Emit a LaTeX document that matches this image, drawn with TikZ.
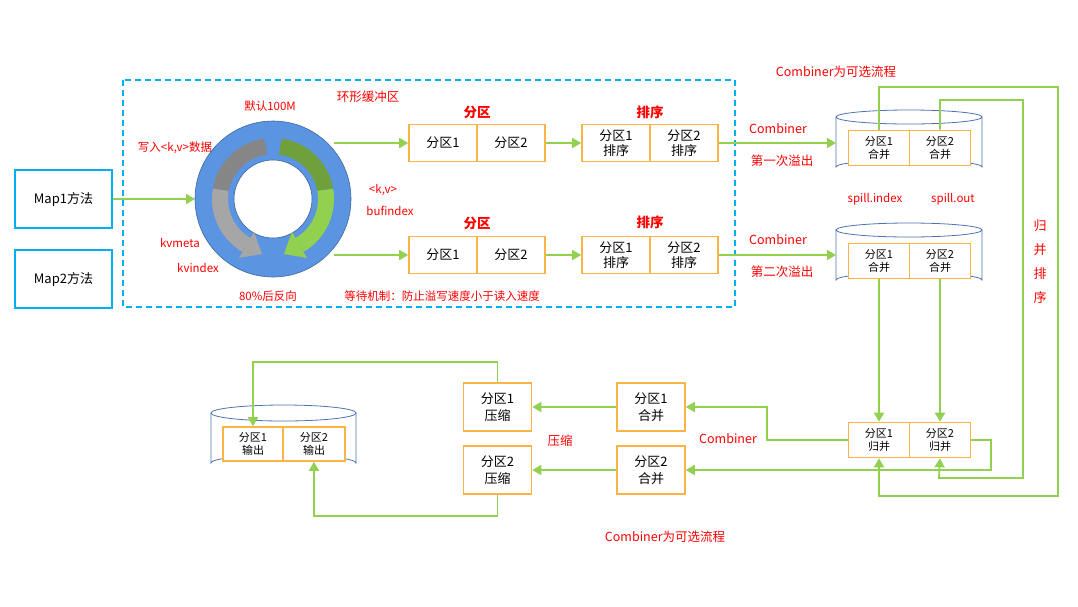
\documentclass[tikz,border=0pt]{standalone}
\usepackage{fontspec}
\setmainfont{Noto Sans CJK SC}
\usetikzlibrary{arrows.meta}
\definecolor{gr}{RGB}{146,208,80}
\definecolor{dgr}{RGB}{112,160,60}
\definecolor{og}{RGB}{250,180,70}
\definecolor{cy}{RGB}{0,176,240}
\definecolor{rb}{RGB}{91,148,224}
\definecolor{cyl}{RGB}{79,114,176}
\begin{document}
\begin{tikzpicture}[x=1pt,y=-1pt,
  cell/.style={draw=og,line width=1.6pt,minimum width=68pt,minimum height=37pt,align=center,inner sep=0pt,font=\fontsize{13}{15}\selectfont,fill=white},
  scell/.style={cell,minimum width=61pt,minimum height=35pt,font=\fontsize{11}{12.5}\selectfont},
  bcell/.style={cell,minimum height=48pt,font=\fontsize{13}{17}\selectfont},
  lab/.style={text=red,font=\fontsize{11.5}{13}\selectfont,inner sep=0pt},
  mlab/.style={lab,font=\fontsize{12.5}{14}\selectfont},
  blab/.style={text=red,font=\fontsize{13.5}{15}\selectfont\bfseries,inner sep=0pt},
  ar/.style={draw=gr,line width=1.8pt,-{Triangle[length=9pt,width=10pt]}},
  mapb/.style={draw=cy,line width=1.6pt,minimum width=97pt,minimum height=58pt,font=\fontsize{13}{15}\selectfont,inner sep=0pt},
  cylb/.style={draw=cyl,line width=0.8pt,fill=white}]
\useasboundingbox (0,0) rectangle (1078,606);
% dashed frame
\draw[cy,line width=1.4pt,dash pattern=on 6pt off 4pt] (123,80) rectangle (735,307);
% map boxes
\node[mapb] (m1) at (63.5,199) {Map1方法};
\node[mapb] (m2) at (63.5,279) {Map2方法};
% ring
\fill[rb,draw=rb!70!black,line width=0.6pt,even odd rule] (273,199) circle (78) (273,199) circle (39);
\coordinate (rc) at (273,199);
\draw[gray!95,line width=16pt] (rc) ++(-98:53) arc[start angle=-98,end angle=-170,radius=53];
\draw[gray!70,line width=16pt] (rc) ++(-170:53) arc[start angle=-170,end angle=-240,radius=53];
\fill[gray!70] (239,257.9) -- (262,254) -- (254,231.9) -- cycle;
\draw[dgr,line width=16pt] (rc) ++(-82:53) arc[start angle=-82,end angle=-10,radius=53];
\draw[gr,line width=16pt] (rc) ++(-10:53) arc[start angle=-10,end angle=60,radius=53];
\fill[gr] (307,257.9) -- (283.9,254) -- (292,231.9) -- cycle;
\coordinate (rin) at (195,199);
\coordinate (ro1) at (334,143);
\coordinate (ro2) at (334,255);
\draw[ar] (m1) -- (rin);
% labels
\node[lab] (l1) at (270,106) {默认100M};
\node[mlab] (l2) at (368,97) {环形缓冲区};
\node[lab] (l3) at (175,148) {写入<k,v>数据};
\node[lab] (l4) at (383,190) {<k,v>};
\node[lab] (l5) at (390,211) {bufindex};
\node[lab] (l6) at (180,243) {kvmeta};
\node[lab] (l7) at (198,268) {kvindex};
\node[lab] (l8) at (268,296) {80\%后反向};
\node[lab] (l9) at (442,296) {等待机制：防止溢写速度小于读入速度};
% partitions
\node[cell] (p11) at (443,143) {分区1};
\node[cell] (p12) at (511,143) {分区2};
\node[cell] (p21) at (443,255) {分区1};
\node[cell] (p22) at (511,255) {分区2};
\node[blab] (t1) at (477,112) {分区};
\node[blab] (t2) at (477,223) {分区};
\node[cell] (s11) at (616,143) {分区1\\排序};
\node[cell] (s12) at (684,143) {分区2\\排序};
\node[cell] (s21) at (616,255) {分区1\\排序};
\node[cell] (s22) at (684,255) {分区2\\排序};
\node[blab] (t3) at (650,112) {排序};
\node[blab] (t4) at (650,222) {排序};
\draw[ar] (ro1) -- (p11);
\draw[ar] (ro2) -- (p21);
\draw[ar] (p12) -- (s11);
\draw[ar] (p22) -- (s21);
% cylinders right
\draw[cylb] (836,117) -- (836,167) arc[start angle=180,end angle=360,x radius=73,y radius=7] -- (982,117);
\draw[cylb] (909,117) ellipse[x radius=73,y radius=7];
\draw[cylb] (836,230) -- (836,280) arc[start angle=180,end angle=360,x radius=73,y radius=7] -- (982,230);
\draw[cylb] (909,230) ellipse[x radius=73,y radius=7];
\node[scell] (c11) at (879,148) {分区1\\合并};
\node[scell] (c12) at (940,148) {分区2\\合并};
\node[scell] (c21) at (879,261) {分区1\\合并};
\node[scell] (c22) at (940,261) {分区2\\合并};
\coordinate (cy1) at (836,143);
\coordinate (cy2) at (836,255);
\draw[ar] (s12) -- (cy1);
\draw[ar] (s22) -- (cy2);
\node[mlab] (cb1) at (778,129) {Combiner};
\node[mlab] (d1) at (782,161) {第一次溢出};
\node[mlab] (cb2) at (778,240) {Combiner};
\node[mlab] (d2) at (782,272) {第二次溢出};
\node[lab] (si) at (875,199) {spill.index};
\node[lab] (so) at (953,199) {spill.out};
\node[mlab] (opt1) at (836,72) {Combiner为可选流程};
\node[mlab] (opt2) at (665,537) {Combiner为可选流程};
\node[lab,font=\fontsize{13}{24}\selectfont,align=center] (gb) at (1040,262) {归\\并\\排\\序};
% merge cells
\node[scell] (g1) at (879,440) {分区1\\归并};
\node[scell] (g2) at (940,440) {分区2\\归并};
\draw[ar] (c21) -- (g1);
\draw[ar] (c22) -- (g2);
\draw[ar] (c11.north) |- (1058,87) |- (879,496) -- (g1.south);
\draw[ar] (c12.north) |- (1023,100) |- (939,478) -- (g2.south);
% bottom boxes
\node[bcell] (h1) at (651,407) {分区1\\合并};
\node[bcell] (h2) at (651,470) {分区2\\合并};
\node[bcell] (z1) at (497.5,407) {分区1\\压缩};
\node[bcell] (z2) at (497.5,470) {分区2\\压缩};
\draw[ar] (g1.west) -| (767,407) -- (h1.east);
\draw[ar] (g2.east) -| (991,470) -- (h2.east);
\draw[ar] (h1) -- (z1);
\draw[ar] (h2) -- (z2);
\node[mlab] (cb3) at (728,439) {Combiner};
\node[mlab] (ys) at (560,441) {压缩};
% output cylinder
\draw[cylb] (211,413) -- (211,463) arc[start angle=180,end angle=360,x radius=72.5,y radius=8] -- (356,413);
\draw[cylb] (283.5,413) ellipse[x radius=72.5,y radius=8];
\node[scell,minimum width=60pt,minimum height=34pt] (o1) at (253,444) {分区1\\输出};
\node[scell,minimum width=62pt,minimum height=34pt] (o2) at (314,444) {分区2\\输出};
\draw[ar] (z1.north) |- (253,362) -- (o1.north);
\draw[ar] (z2.south) |- (314,516) -- (o2.south);
\end{tikzpicture}
\end{document}
